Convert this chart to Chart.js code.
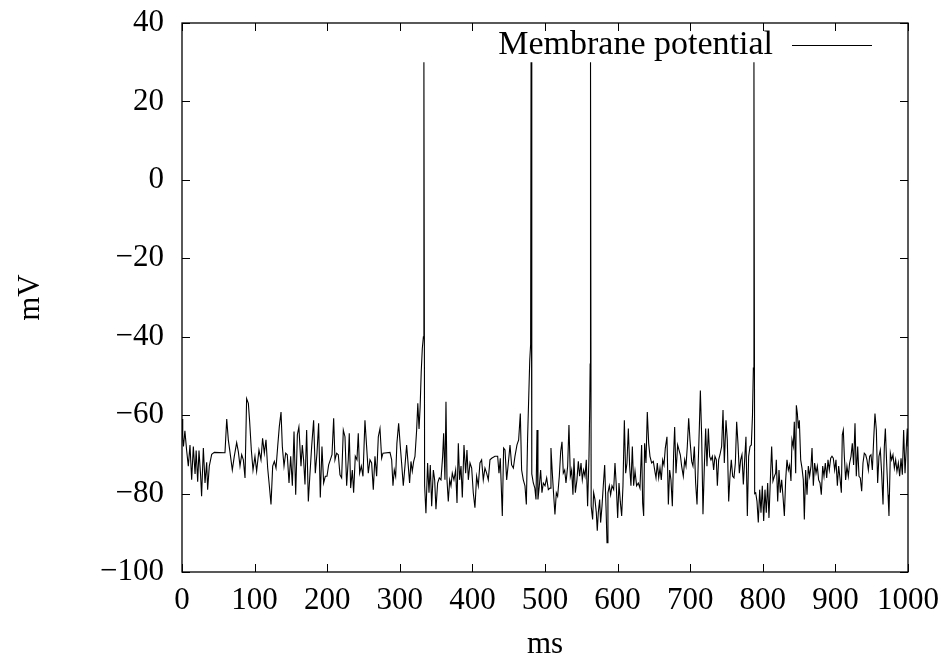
<!DOCTYPE html>
<html>
<head>
<meta charset="utf-8">
<script src="https://cdn.jsdelivr.net/npm/chart.js@4.4.1/dist/chart.umd.min.js"></script>
<style>
  body { margin: 0; background: #fff; }
  canvas { display: block; }
</style>
</head>
<body>
<canvas id="chart" width="941" height="657"></canvas>
<script>

// values (ms, mV)
const times = [0,1,2,4,6.4,8.7,11,13.3,15.6,18,19.5,21.6,23.4,25.7,27,29.4,31.7,34,35.3,37.6,40.9,44.5,59.2,61.6,63.8,66,69.3,72,75.3,77.6,79.9,82.2,84.5,86.8,89,91.4,93.2,95.5,97.8,100.5,102.8,106,108.8,111,113.4,115.7,118,120.3,122.6,124.9,127.2,129.5,131.8,134,136.4,138.2,140.5,142.8,145,147.4,149.7,152,154.3,156.6,158.9,161,
  163.9,165.7,167.5,169.4,171.7,174,176.3,178.6,181.3,183.6,185.9,188.2,190.5,192.8,195.1,197.4,199.7,202,204.3,206.6,208.9,210.7,213,215.3,217.6,219.9,222.2,224.5,226.8,229,230.4,232.3,234.6,236.4,238.7,241,242.8,244.7,247,249.3,252,254.3,256.6,258.9,261.2,263.5,265.8,268.1,270.4,272.7,275,276.8,286.5,288.8,290.6,292.4,294.3,296,298.4,300.7,302.5,304.8,307.1,309.4,311.7,313.5,315.4,317.2,319.1,320.9,323.2,324.8,326.5,328,329.5,331,332.5,333.2,334.2,
  336,338.3,340.2,342,343.9,346.2,348,349.8,352.1,354.4,356.7,359,360.4,362.2,363.6,365,366.8,368.7,370.5,372.3,374.6,376.9,378.8,380.6,382.4,384.3,386.1,388.4,390.7,392.5,394.4,396.7,399,401.2,403.5,405.8,408.1,410.4,412.7,415,417.3,419.6,421.9,424.2,426.5,431.1,434.8,436.6,438.4,441.2,443,444.9,447.2,449.5,451.8,454,456.4,458.6,461.4,463.7,466,467.8,470.1,472.4,474.3,476,477.5,479,480.2,480.8,481.8,483.9,
  486,487.6,489,490.3,492.2,494,495.8,497.7,500,502.3,504.6,506.9,508.2,510.1,511.9,513.7,515.6,517.4,519.7,521.6,523.4,525.2,527.1,528.9,531.2,533,534.9,536.7,538.5,539.9,541.8,544,545.9,547.7,549.6,551.4,553.2,555.1,556.9,558.7,560.6,561.6,562.2,562.7,563.6,565.6,567,568.8,570.7,572,573.4,575.3,576.6,578.5,580.3,582.2,584,585.4,586.7,588.6,590.4,592.3,594.6,596.4,598.2,600.1,601.9,603.7,605.6,607.4,609.3,611.1,612.9,614.8,616.6,618.4,620.3,622.1,624,626.2,628.5,630.8,633.1,634.5,635.9,637.2,639.1,640.9,642.8,644.6,646.9,649.2,
  651.5,652.9,654.7,656.6,658.4,660.2,662.1,663.9,665.7,668,669.9,671.7,673.5,675.4,677.2,678.6,680.4,682.7,684.6,686.4,688.2,690.5,692.4,694.2,696,697.9,699.7,702,703.8,705.7,707.5,709.4,711.2,712.6,714,715.8,717.6,719.5,721.3,723.1,725,726.8,728.6,730.5,732.3,734.1,736,737.4,739.2,741,743.3,745.2,747,749.3,751.1,753,754.8,756.6,758.5,760.3,762.2,764,765.8,767.7,769.5,771.3,773.2,775,776.8,778.7,780.5,782.4,784.2,785.8,787,787.8,788.8,
  790.2,792,793.8,795.7,797.5,799.3,801.2,803,804.8,806.7,808.5,810.4,812.2,814,815.9,817.7,818.6,820.5,822.3,824.1,826,827.8,829.7,831.5,833.3,835.2,837,838.8,840.2,842,843.4,845.3,846.2,847.6,849,850.3,852.2,854,855.8,857.2,859,860.9,862.7,864.5,866.4,867.8,869.6,871.4,873.3,875.1,876.9,878.8,880.6,882.5,884.3,886.1,888,889.8,891.6,893.5,895.3,897.1,899,900.8,902.7,904.5,906.3,908.2,909.5,910.9,912.3,914.1,915.9,917.8,919.6,921.5,923.3,925.1,927,928.8,930.7,932.5,934.3,936.2,938,939.8,941.7,943.5,945.4,947.2,949,950.9,952.7,954.5,956.4,958.2,960,961.9,963.7,965.6,967.4,968.8,970.6,972.5,973.8,975.7,977.5,979.3,981.2,983,984.8,986.7,988.5,990.4,992.2,994,995.9,997.7,999,1000];

const volts = [-61,-66,-68,-64,-69,-73,-67.6,-76.5,-68,-75,-69,-77,-69,-75.6,-80.7,-68.4,-77.3,-72,-79,-73,-70,-69.5,-69.6,-61,-66.3,-69.3,-74,-70.5,-67,-69.3,-73,-70.1,-71.4,-76,-55.8,-57,-61.7,-68.9,-74,-70.5,-74.3,-68.9,-71.4,-65.9,-69.7,-66.3,-73.5,-78,-82.8,-73,-71.8,-73.5,-68,-63,-59.2,-68,-73,-69.7,-70.1,-77.3,-70.5,-78,-64.2,-80.3,-65,-63,
  -73,-67.6,-71.4,-77.7,-63.8,-82,-74.8,-68,-61.3,-74.8,-69.7,-62.1,-81,-68,-77.3,-75.6,-75.6,-72.7,-71.4,-70.1,-60.8,-71.4,-69.7,-70.1,-75.2,-76,-63.8,-65.5,-78,-71.4,-64.6,-78.6,-74,-79.8,-70.5,-71.4,-64.6,-74.8,-73,-75.6,-61.3,-68,-74.8,-71.4,-72.2,-79,-70.5,-75.6,-65.5,-63.4,-71,-69.7,-69.5,-71.4,-78,-74,-75.6,-67.2,-62.1,-68,-72.2,-78,-73,-67.6,-73,-77.3,-71.8,-74.3,-71.8,-70.5,-63.8,-57,-63.5,-58,-49,-43,-40,30,-78,
  -85,-72.2,-79.8,-72.7,-83.2,-74,-76.5,-84,-77.3,-76,-76.5,-70.5,-64.6,-76.5,-56.6,-76.5,-82,-76.5,-78,-74.8,-76.5,-74,-82.4,-67.2,-76.5,-73,-81,-67.6,-74.8,-68.9,-76.5,-72.2,-73.5,-79.8,-83.6,-75.6,-78,-72.2,-71.4,-76.5,-73.5,-74.8,-76.5,-71.4,-71,-70.5,-70.5,-74.8,-71,-85.7,-68.4,-68.9,-76.5,-72.2,-67.6,-72.7,-73.5,-70.5,-67.6,-66.3,-59.6,-74,-76.5,-78,-82.8,-66,-56,-46,-42,30,-75,-77.3,
  -78.6,-81.5,-63.8,-81.5,-78,-74,-79.8,-77.3,-78,-76,-79,-78.6,-68.4,-74.8,-80.3,-85.3,-79.8,-80.7,-75.6,-69.3,-66.8,-74.8,-74,-77.3,-73,-62.5,-75.6,-74,-80.3,-71,-79.8,-76.5,-71.8,-75.6,-72.2,-76.5,-74,-75.6,-71.4,-83.2,-70.5,-58,-47,30,-83.2,-86.6,-79.8,-81.5,-84.9,-89.5,-84.9,-81.5,-87.4,-83.2,-78,-72.7,-83.2,-92.5,-79.8,-78,-80.3,-78,-79,-72.2,-78,-86.2,-77.3,-82,-85.7,-78,-61.3,-74.8,-72.2,-63.4,-73,-78,-68,-78,-74.3,-78,-77.3,-78.6,-67.6,-82.4,-85.7,-67.2,-72.2,-59.2,-67.2,-70.5,-72.2,-71.8,
  -74.5,-76,-72.2,-76,-73.5,-76.5,-71.4,-72.7,-68.4,-65.5,-82.8,-74,-76.5,-83.2,-69.7,-63,-74.8,-67.6,-68.9,-70.1,-73,-75.6,-71.4,-73,-68,-60.8,-66.3,-71.8,-73,-68,-77.3,-82.8,-71.4,-63,-53.7,-65.5,-85.3,-73,-63.4,-73,-63.4,-70.5,-71.4,-70.5,-74,-70.5,-71.4,-78,-71.4,-70.1,-68,-58.7,-72.2,-61.3,-66.3,-82,-75.6,-71.4,-75.6,-76,-72.2,-61.7,-67.2,-74.8,-71.4,-70.1,-77.7,-71.4,-65.5,-85.7,-70.5,-68,-67.6,-60,-48,30,-80,
  -79.8,-82,-87.4,-79,-84.9,-78,-87,-79,-84.9,-77.3,-86.2,-76.5,-68,-76.8,-75.6,-74.8,-71.4,-82,-74,-79.8,-76.5,-80.7,-85.7,-76.5,-71.4,-74,-72.7,-76.8,-66.3,-68,-61.7,-74.8,-57.5,-59.6,-63.4,-61.3,-71.4,-73.5,-76.5,-86.6,-74,-80.3,-73,-75.6,-73,-68.4,-78,-72.2,-74.8,-73,-76.5,-77.3,-80.3,-73,-75.6,-72.2,-76,-71.4,-74,-71,-70.5,-71,-74,-71.4,-78,-73,-76,-79.8,-65,-63.8,-70.5,-76.5,-73,-75.6,-72.2,-70.5,-67.2,-72.7,-62.1,-75.6,-68,-75.6,-76,-79.4,-72.2,-69.7,-70.1,-71.4,-74,-70.5,-70.1,-74,-66.3,-59.6,-63.8,-77.3,-70.5,-68.9,-74.8,-82.8,-68,-63.4,-72.2,-80.3,-85.7,-69.7,-71.4,-70.1,-73.5,-71.4,-74.3,-72.2,-75.6,-71,-75.2,-63.8,-74.8,-68,-63.4,-68];

const xTicks = [0, 100, 200, 300, 400, 500, 600, 700, 800, 900, 1000];
const yTicks = [-100, -80, -60, -40, -20, 0, 20, 40];
const seriesName = 'Membrane potential';

const FONT = 'Liberation Serif';

const points = times.map((t, i) => ({ x: t, y: volts[i] }));

// gnuplot-like frame, inward ticks on all four sides, and the legend inside the box
const framePlugin = {
  id: 'frame',
  afterDraw(chart) {
    const ctx = chart.ctx;
    const a = chart.chartArea;
    const xs = chart.scales.x, ys = chart.scales.y;
    const tl = 8;
    ctx.save();
    ctx.strokeStyle = '#000';
    ctx.lineWidth = 1.3;
    ctx.strokeRect(a.left, a.top, a.right - a.left, a.bottom - a.top);
    ctx.lineWidth = 1;
    ctx.beginPath();
    xTicks.forEach(v => {
      const px = Math.round(xs.getPixelForValue(v)) + 0.5;
      ctx.moveTo(px, a.bottom); ctx.lineTo(px, a.bottom - tl);
      ctx.moveTo(px, a.top); ctx.lineTo(px, a.top + tl);
    });
    yTicks.forEach(v => {
      const py = Math.round(ys.getPixelForValue(v)) + 0.5;
      ctx.moveTo(a.left, py); ctx.lineTo(a.left + tl, py);
      ctx.moveTo(a.right, py); ctx.lineTo(a.right - tl, py);
    });
    ctx.stroke();

    // legend: text then line sample
    const ly = a.top + 22;
    ctx.font = '34px "' + FONT + '"';
    ctx.fillStyle = '#000';
    ctx.textAlign = 'right';
    ctx.textBaseline = 'middle';
    ctx.fillText(seriesName, a.right - 135, ly);
    ctx.beginPath();
    ctx.moveTo(a.right - 116, ly + 0.5);
    ctx.lineTo(a.right - 36, ly + 0.5);
    ctx.stroke();
    ctx.restore();
  }
};

function noPad(s) {
  s.paddingLeft = 0; s.paddingRight = 0; s.paddingTop = 0; s.paddingBottom = 0;
}

const ctx = document.getElementById('chart').getContext('2d');
const myChart = new Chart(ctx, {
  type: 'line',
  data: {
    datasets: [{
      label: seriesName,
      data: points,
      borderColor: '#000',
      borderWidth: 1.1,
      pointRadius: 0,
      tension: 0,
      fill: false
    }]
  },
  options: {
    responsive: false,
    animation: false,
    layout: { autoPadding: false, padding: { left: 0, top: 23, right: 33, bottom: 0 } },
    plugins: {
      legend: { display: false },
      tooltip: { enabled: false }
    },
    scales: {
      x: {
        type: 'linear',
        min: 0,
        max: 1000,
        afterFit: s => { s.height = 85; noPad(s); },
        afterBuildTicks: s => { s.ticks = xTicks.map(v => ({ value: v })); },
        grid: { display: false, drawTicks: false },
        border: { display: false },
        ticks: {
          color: '#000',
          padding: 10,
          maxRotation: 0,
          font: { family: FONT, size: 31 },
          callback: v => String(v)
        },
        title: { display: true, text: 'ms', color: '#000', padding: { top: 0, bottom: -3 }, font: { family: FONT, size: 31, lineHeight: 1 } }
      },
      y: {
        type: 'linear',
        min: -100,
        max: 40,
        afterFit: s => { s.width = 182; noPad(s); },
        afterBuildTicks: s => { s.ticks = yTicks.map(v => ({ value: v })); },
        grid: { display: false, drawTicks: false },
        border: { display: false },
        ticks: {
          color: '#000',
          padding: 18,
          font: { family: FONT, size: 31 },
          callback: v => v < 0 ? '\u2212' + Math.abs(v) : String(v)
        },
        title: { display: true, text: 'mV', color: '#000', padding: { top: 12, bottom: 0 }, font: { family: FONT, size: 31 } }
      }
    }
  },
  plugins: [framePlugin]
});
</script>
</body>
</html>
